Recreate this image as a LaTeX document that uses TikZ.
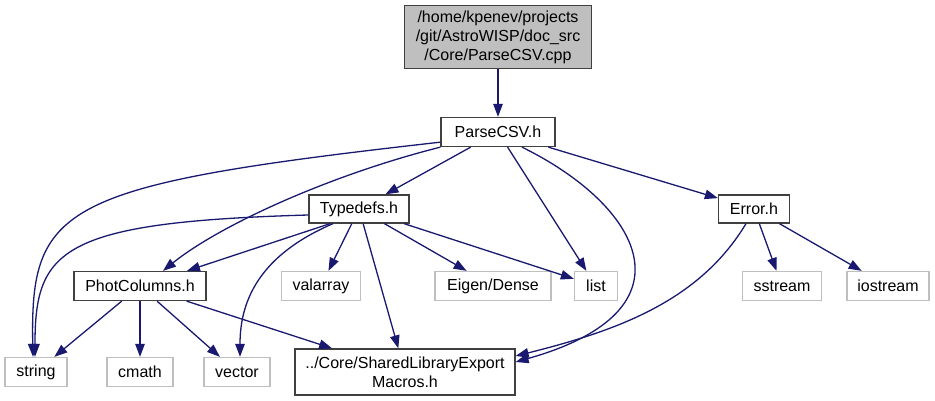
\documentclass[tikz,border=0pt]{standalone}
\usepackage{fontspec}
\setmainfont{Liberation Sans}
\usetikzlibrary{arrows.meta}
\definecolor{EdgeBlue}{HTML}{191970}
\definecolor{BoxGrey}{HTML}{BFBFBF}
\definecolor{BoxLine}{HTML}{404040}

\begin{document}
\begin{tikzpicture}[x=1pt,y=-1pt,
  n/.style={rectangle,draw=BoxLine,fill=white,line width=1.3pt,inner sep=0pt,minimum height=29pt,font=\fontsize{16}{19}\selectfont,align=center},
  s/.style={n,draw=BoxGrey},
  e/.style={draw=EdgeBlue,line width=1.3pt,-{Triangle[length=13pt,width=9.5pt]}}
]
  \useasboundingbox (0,0) rectangle (935,401);
  \node[n,fill=BoxGrey,minimum width=187,minimum height=63] (root) at (498,37) {/home/kpenev/projects\\/git/AstroWISP/doc\_src\\/Core/ParseCSV.cpp};
  \node[n,minimum width=114] (pcsv) at (498,132) {ParseCSV.h};
  \node[n,minimum width=100,minimum height=28] (typedefs) at (359,209) {Typedefs.h};
  \node[n,minimum width=71,minimum height=28] (error) at (754,209) {Error.h};
  \node[n,minimum width=132] (phot) at (140,286) {PhotColumns.h};
  \node[s,minimum width=79] (valarray) at (321,286) {valarray};
  \node[s,minimum width=116] (eigen) at (493,286) {Eigen/Dense};
  \node[s,minimum width=43] (list) at (596,286) {list};
  \node[s,minimum width=79] (sstream) at (782,286) {sstream};
  \node[s,minimum width=82] (iostream) at (888,286) {iostream};
  \node[s,minimum width=62] (string) at (36,372) {string};
  \node[s,minimum width=66] (cmath) at (140,372) {cmath};
  \node[s,minimum width=66] (vector) at (237,372) {vector};
  \node[n,minimum width=220,minimum height=46] (shared) at (405,372) {../Core/SharedLibraryExport\\Macros.h};

  \draw[e] (root) -- (pcsv);
  \draw[e] (pcsv.190) .. controls (60,185) and (30,205) .. ([xshift=-3pt]string.north);
  \draw[e] (pcsv.south west) .. controls (330,175) and (220,225) .. ([xshift=23pt]phot.north);
  \draw[e] (pcsv) -- (typedefs);
  \draw[e] (pcsv) -- (list);
  \draw[e] ([xshift=24pt]pcsv.south) .. controls (640,205) and (700,310) .. ([yshift=10pt]shared.east);
  \draw[e] (pcsv) -- (error);
  \draw[e] ([yshift=-6pt]typedefs.west) .. controls (60,222) and (35,250) .. ([xshift=-1pt]string.north);
  \draw[e] ([xshift=-29pt]typedefs.south) -- ([xshift=47pt]phot.north);
  \draw[e] ([xshift=-26pt]typedefs.south) .. controls (260,255) and (240,300) .. ([xshift=3pt]vector.north);
  \draw[e] (typedefs) -- (valarray);
  \draw[e] (typedefs) -- (shared);
  \draw[e] (typedefs) -- (eigen);
  \draw[e] (typedefs) -- (list);
  \draw[e] ([xshift=-8pt]error.south) .. controls (700,300) and (620,330) .. ([yshift=16pt]shared.east);
  \draw[e] (error) -- (sstream);
  \draw[e] (error) -- (iostream);
  \draw[e] (phot) -- (string);
  \draw[e] (phot) -- (cmath);
  \draw[e] (phot) -- (vector);
  \draw[e] (phot) -- (shared);
\end{tikzpicture}
\end{document}
